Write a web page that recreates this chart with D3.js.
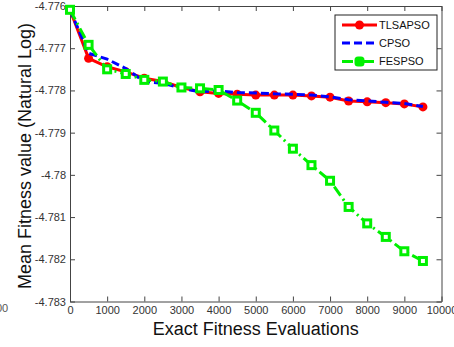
<!DOCTYPE html>
<html><head><meta charset="utf-8">
<script src="https://cdn.jsdelivr.net/npm/d3@7"></script>
<style>
html,body{margin:0;padding:0;background:#fff;overflow:hidden;}
svg{display:block;font-family:"Liberation Sans",Arial,sans-serif;}
</style></head>
<body>
<svg id="chart" width="454" height="347"></svg>
<script>
const evals = [0,500,1000,1500,2000,2500,3000,3500,4000,4500,5000,5500,6000,6500,7000,7500,8000,8500,9000,9500];
const tlsapso = [-4.77609,-4.77724,-4.77744,-4.77756,-4.77771,-4.77779,-4.77793,-4.77803,-4.77807,-4.77809,-4.77811,-4.77811,-4.77811,-4.77813,-4.77816,-4.77825,-4.77827,-4.77829,-4.77832,-4.77839];
const cpso = [-4.77609,-4.77712,-4.77726,-4.77748,-4.77779,-4.77783,-4.77795,-4.77803,-4.77801,-4.77805,-4.77806,-4.77808,-4.77809,-4.77811,-4.77815,-4.77822,-4.77825,-4.77828,-4.77831,-4.77838];
const fespso = [-4.77609,-4.77692,-4.77750,-4.77761,-4.77775,-4.77779,-4.77793,-4.77795,-4.77799,-4.77824,-4.77853,-4.77895,-4.77938,-4.77977,-4.78014,-4.78076,-4.78115,-4.78147,-4.78181,-4.78204];
const seriesNames = ["TLSAPSO","CPSO","FESPSO"];
const xTicks = [0,1000,2000,3000,4000,5000,6000,7000,8000,9000,10000];
const yTicks = [-4.776,-4.777,-4.778,-4.779,-4.78,-4.781,-4.782,-4.783];
const yTickLabels = ["-4.776","-4.777","-4.778","-4.779","-4.78","-4.781","-4.782","-4.783"];
const xTitle = "Exact Fitness Evaluations";
const yTitle = "Mean Fitness value (Natural Log)";

const svg = d3.select("#chart");
const L = 70, R = 441.5, T = 6, B = 301.5;
const x = d3.scaleLinear().domain([0,10000]).range([L,R]);
const y = d3.scaleLinear().domain([-4.783,-4.776]).range([B,T]);
const axisColor = "#444";

// stray clipped label at far left
svg.append("text").attr("x",-4).attr("y",312).attr("font-size",11).attr("fill","#555").text("00");

// axes
const fmtY = (d,i) => yTickLabels[i];
const gx = svg.append("g").attr("transform",`translate(0,${B})`)
  .call(d3.axisBottom(x).tickValues(xTicks).tickSizeInner(-5).tickSizeOuter(0).tickPadding(5).tickFormat(d3.format("d")));
const gy = svg.append("g").attr("transform",`translate(${L},0)`)
  .call(d3.axisLeft(y).tickValues(yTicks).tickSizeInner(-5).tickSizeOuter(0).tickPadding(4).tickFormat(fmtY));
const gt = svg.append("g").attr("transform",`translate(0,${T})`)
  .call(d3.axisTop(x).tickValues(xTicks).tickSizeInner(-5).tickSizeOuter(0).tickFormat(""));
const gr = svg.append("g").attr("transform",`translate(${R},0)`)
  .call(d3.axisRight(y).tickValues(yTicks).tickSizeInner(-5).tickSizeOuter(0).tickFormat(""));
[gx,gy,gt,gr].forEach(g=>{
  g.selectAll("path.domain").attr("stroke",axisColor);
  g.selectAll(".tick line").attr("stroke",axisColor);
  g.selectAll(".tick text").attr("font-size",11).attr("fill","#333").attr("font-family","'Liberation Sans',Arial,sans-serif");
});

// titles
svg.append("text").attr("x",(L+R)/2).attr("y",335).attr("text-anchor","middle")
  .attr("font-size",18).attr("fill","#111").text(xTitle);
svg.append("text").attr("transform","translate(31,156) rotate(-90)").attr("text-anchor","middle")
  .attr("font-size",18).attr("fill","#111").text(yTitle);

const line = d3.line().x((d,i)=>x(evals[i])).y(d=>y(d));
const red = "#ff0000", blue = "#0000ff", green = "#00f000";

// TLSAPSO
svg.append("path").datum(tlsapso).attr("d",line).attr("fill","none").attr("stroke",red).attr("stroke-width",3);
svg.append("g").selectAll("circle").data(tlsapso).join("circle")
  .attr("cx",(d,i)=>x(evals[i])).attr("cy",d=>y(d)).attr("r",4.5).attr("fill",red);
// CPSO
svg.append("path").datum(cpso).attr("d",line).attr("fill","none").attr("stroke",blue).attr("stroke-width",3).attr("stroke-dasharray","8,4");
// FESPSO
svg.append("path").datum(fespso).attr("d",line).attr("fill","none").attr("stroke",green).attr("stroke-width",3).attr("stroke-dasharray","11,4,2,4");
svg.append("g").selectAll("rect").data(fespso).join("rect")
  .attr("x",(d,i)=>x(evals[i])-3.5).attr("y",d=>y(d)-3.5).attr("width",7).attr("height",7)
  .attr("fill","#fff").attr("stroke",green).attr("stroke-width",3);

// legend
const lg = svg.append("g");
lg.append("rect").attr("x",335).attr("y",15).attr("width",102).attr("height",55).attr("fill","#fff").attr("stroke","#222").attr("stroke-width",1);
const ly = [25,43,61.5];
const x1 = 342, x2 = 377;
lg.append("line").attr("x1",x1).attr("x2",x2).attr("y1",ly[0]).attr("y2",ly[0]).attr("stroke",red).attr("stroke-width",3);
lg.append("circle").attr("cx",(x1+x2)/2).attr("cy",ly[0]).attr("r",4.5).attr("fill",red);
lg.append("line").attr("x1",x1).attr("x2",x2).attr("y1",ly[1]).attr("y2",ly[1]).attr("stroke",blue).attr("stroke-width",3).attr("stroke-dasharray","8,4");
lg.append("line").attr("x1",x1).attr("x2",x2).attr("y1",ly[2]).attr("y2",ly[2]).attr("stroke",green).attr("stroke-width",3).attr("stroke-dasharray","11,4,2,4");
lg.append("rect").attr("x",(x1+x2)/2-3.5).attr("y",ly[2]-3.5).attr("width",7).attr("height",7).attr("rx",2).attr("fill",green).attr("stroke",green).attr("stroke-width",3);
lg.selectAll("text.lbl").data(seriesNames).join("text").attr("class","lbl")
  .attr("x",379).attr("y",(d,i)=>ly[i]).attr("dy","0.36em").attr("font-size",11).attr("fill","#111").text(d=>d);
</script>
</body></html>
